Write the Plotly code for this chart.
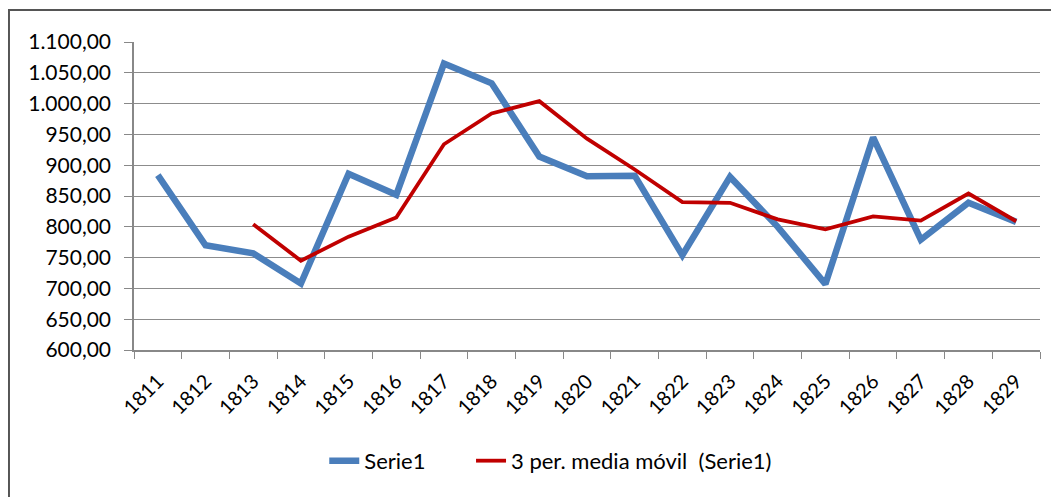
import plotly.graph_objects as go

years = [str(y) for y in range(1811, 1830)]
serie1 = [884, 770, 757, 708, 886, 852, 1065, 1033, 914, 882, 883, 754, 881, 800, 707, 945, 779, 839, 808]
media_movil = [None, None, 804, 745, 784, 815, 934, 984, 1004, 943, 893, 840, 839, 812, 796, 817, 810, 854, 809]

FONT = "Lato"

fig = go.Figure()
fig.add_trace(go.Scatter(
    x=years, y=serie1, mode="lines", name="Serie1",
    line=dict(color="#4A7EBB", width=6.5), legend="legend",
))
fig.add_trace(go.Scatter(
    x=years, y=media_movil, mode="lines", name="3 per. media móvil  (Serie1)",
    line=dict(color="#C00000", width=3.8), connectgaps=False, legend="legend2",
))

leg_common = dict(orientation="h", xanchor="left", y=-0.36, yanchor="middle",
                  font=dict(family=FONT, size=22, color="black"), bgcolor="rgba(0,0,0,0)")

fig.update_layout(
    width=1059, height=497,
    margin=dict(l=126, r=27, t=34, b=155, autoexpand=False),
    paper_bgcolor="white", plot_bgcolor="white",
    separators=",.",
    font=dict(family=FONT, size=20, color="black"),
    showlegend=True,
    legend=dict(x=0.210, **leg_common),
    legend2=dict(x=0.372, **leg_common),
    shapes=[dict(type="rect", xref="paper", yref="paper",
                 x0=-0.138, x1=1.2, y0=-0.8, y1=1.104,
                 line=dict(color="#555555", width=2), fillcolor="rgba(0,0,0,0)", layer="below")],
)
fig.update_xaxes(
    type="category", tickson="boundaries", ticks="outside", ticklen=7, tickcolor="#888888",
    showline=True, linecolor="#888888", linewidth=1.5, showgrid=False,
    tickangle=-45, tickfont=dict(family=FONT, size=20, color="black"),
    ticklabelstandoff=10,
    range=[-0.5, 18.5],
)
fig.update_yaxes(
    range=[600, 1100], dtick=50, tick0=600, tickformat=",.2f",
    ticks="outside", ticklen=8, tickcolor="#888888",
    showline=True, linecolor="#888888", linewidth=1.5,
    showgrid=True, gridcolor="#8c8c8c", gridwidth=1.3,
    tickfont=dict(family=FONT, size=21, color="black"),
    ticklabelstandoff=9,
    zeroline=False,
)

fig.write_html("out.html")
